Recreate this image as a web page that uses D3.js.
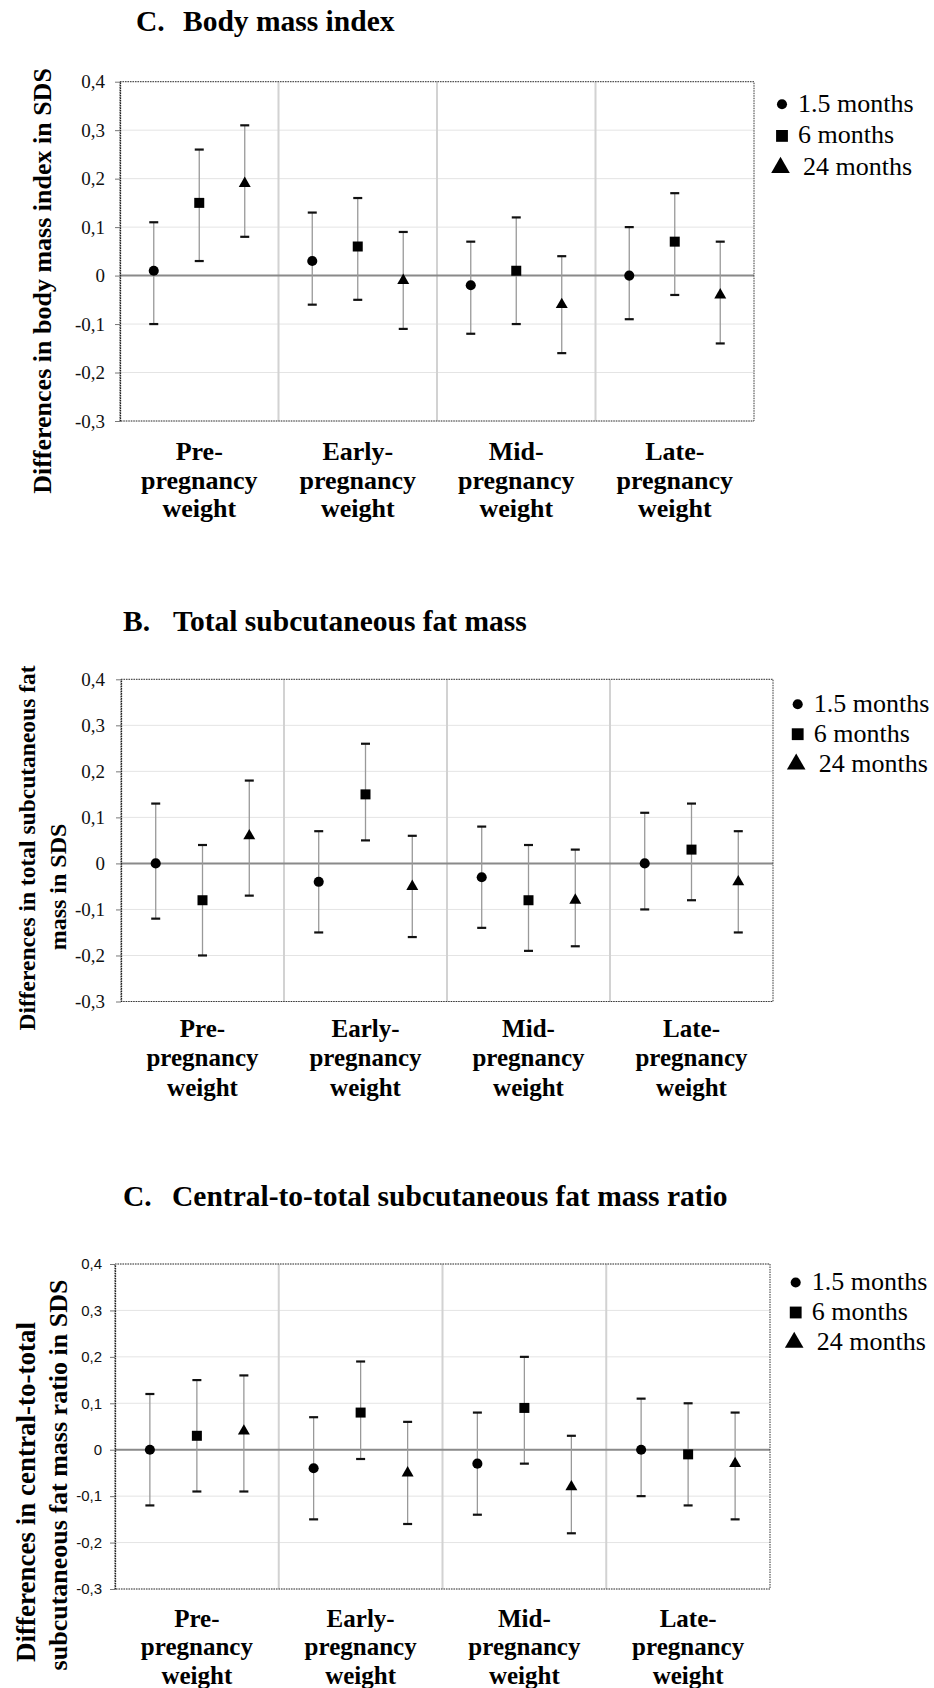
<!DOCTYPE html>
<html>
<head>
<meta charset="utf-8">
<script src="https://cdn.jsdelivr.net/npm/d3@7"></script>
<style>
  body { margin: 0; background: #fff; }
</style>
</head>
<body>
<div id="chart"></div>
<script>
// categories on the x axis, one line per array entry
const categories = [
    ["Pre-", "pregnancy", "weight"],
    ["Early-", "pregnancy", "weight"],
    ["Mid-", "pregnancy", "weight"],
    ["Late-", "pregnancy", "weight"]
];
const seriesNames = ["1.5 months", "6 months", "24 months"];
const yTicks = [0.4, 0.3, 0.2, 0.1, 0, -0.1, -0.2, -0.3];

// rows: 1.5 / 6 / 24 months, columns: pre / early / mid / late
const bmiEst  = [[0.01, 0.03, -0.02, 0.00], [0.15, 0.06, 0.01, 0.07], [0.19, -0.01, -0.06, -0.04]];
const bmiLow  = [[-0.10, -0.06, -0.12, -0.09], [0.03, -0.05, -0.10, -0.04], [0.08, -0.11, -0.16, -0.14]];
const bmiHigh = [[0.11, 0.13, 0.07, 0.10], [0.26, 0.16, 0.12, 0.17], [0.31, 0.09, 0.04, 0.07]];

const fatEst  = [[0.00, -0.04, -0.03, 0.00], [-0.08, 0.15, -0.08, 0.03], [0.06, -0.05, -0.08, -0.04]];
const fatLow  = [[-0.12, -0.15, -0.14, -0.10], [-0.20, 0.05, -0.19, -0.08], [-0.07, -0.16, -0.18, -0.15]];
const fatHigh = [[0.13, 0.07, 0.08, 0.11], [0.04, 0.26, 0.04, 0.13], [0.18, 0.06, 0.03, 0.07]];

const ratioEst  = [[0.00, -0.04, -0.03, 0.00], [0.03, 0.08, 0.09, -0.01], [0.04, -0.05, -0.08, -0.03]];
const ratioLow  = [[-0.12, -0.15, -0.14, -0.10], [-0.09, -0.02, -0.03, -0.12], [-0.09, -0.16, -0.18, -0.15]];
const ratioHigh = [[0.12, 0.07, 0.08, 0.11], [0.15, 0.19, 0.20, 0.10], [0.16, 0.06, 0.03, 0.08]];

const symbolTypes = [d3.symbolCircle, d3.symbolSquare, d3.symbolTriangle];
const markerSizes = [80, 100, 62];
const legendSizes = [80, 140, 150];
const legendGap = [16, 16, 21];

const serif = "'Liberation Serif', 'Times New Roman', serif";
const sans = "'Liberation Sans', Arial, sans-serif";

const panels = [
    {
        letter: "C.", name: "Body mass index", letterX: 136, nameX: 183, titleY: 30.7,
        left: 120, right: 754, top: 81.7, bottom: 421,
        tickFont: serif, tickFontSize: 19, tickPad: 10,
        yTitle: [{text: "Differences in body mass index in SDS", x: 51, y: 281, size: 26}],
        catY: 39, catStep: 28.5, catSize: 26,
        legendX: 782, legendY: 111.7, legendStep: 31.7,
        est: bmiEst, low: bmiLow, high: bmiHigh
    },
    {
        letter: "B.", name: "Total subcutaneous fat mass", letterX: 123, nameX: 173, titleY: 630.7,
        left: 121, right: 773, top: 679.3, bottom: 1001.5,
        tickFont: serif, tickFontSize: 19, tickPad: 11,
        yTitle: [
            {text: "Differences in total subcutaneous fat", x: 35, y: 848, size: 23.5},
            {text: "mass in SDS", x: 65.5, y: 887, size: 24}
        ],
        catY: 35, catStep: 29.7, catSize: 25,
        legendX: 797.7, legendY: 711.7, legendStep: 30,
        est: fatEst, low: fatLow, high: fatHigh
    },
    {
        letter: "C.", name: "Central-to-total subcutaneous fat mass ratio", letterX: 123, nameX: 172, titleY: 1206,
        left: 115, right: 770, top: 1264, bottom: 1589,
        tickFont: sans, tickFontSize: 15, tickPad: 8,
        yTitle: [
            {text: "Differences in central-to-total", x: 35, y: 1492, size: 27},
            {text: "subcutaneous fat mass ratio in SDS", x: 67, y: 1475, size: 26}
        ],
        catY: 37.7, catStep: 28.5, catSize: 25,
        legendX: 795.7, legendY: 1290, legendStep: 30,
        est: ratioEst, low: ratioLow, high: ratioHigh
    }
];

const svg = d3.select("#chart")
    .append("svg")
    .attr("width", 934)
    .attr("height", 1688);

function fmtTick(d) {
    return d === 0 ? "0" : d.toFixed(1).replace(".", ",");
}

function drawPanel(p) {
    const g = svg.append("g");

    var x = d3.scaleBand()
        .domain(d3.range(categories.length))
        .range([p.left, p.right]);
    var xs = d3.scalePoint()
        .domain(d3.range(seriesNames.length))
        .range([0, x.bandwidth()])
        .padding(0.742);
    var y = d3.scaleLinear()
        .domain([-0.3, 0.4])
        .range([p.bottom, p.top]);

    // title
    const title = g.append("text")
        .attr("y", p.titleY)
        .style("font-family", serif)
        .style("font-weight", "bold")
        .style("font-size", "29.5px");
    title.append("tspan").attr("x", p.letterX).text(p.letter);
    title.append("tspan").attr("x", p.nameX).text(p.name);

    // horizontal gridlines
    g.append("g")
        .selectAll("line")
        .data(yTicks)
        .join("line")
        .attr("x1", p.left)
        .attr("x2", p.right)
        .attr("y1", d => y(d))
        .attr("y2", d => y(d))
        .attr("stroke", "#e4e4e4")
        .attr("stroke-width", 1);

    // category separators
    g.append("g")
        .selectAll("line")
        .data(d3.range(1, categories.length))
        .join("line")
        .attr("x1", d => x(d))
        .attr("x2", d => x(d))
        .attr("y1", p.top)
        .attr("y2", p.bottom)
        .attr("stroke", "#d2d2d2")
        .attr("stroke-width", 2);

    // zero line
    g.append("line")
        .attr("x1", p.left)
        .attr("x2", p.right)
        .attr("y1", y(0))
        .attr("y2", y(0))
        .attr("stroke", "#8a8a8a")
        .attr("stroke-width", 2);

    // dotted frame
    g.append("rect")
        .attr("x", p.left)
        .attr("y", p.top)
        .attr("width", p.right - p.left)
        .attr("height", p.bottom - p.top)
        .attr("fill", "none")
        .attr("stroke", "#333")
        .attr("stroke-width", 1)
        .attr("stroke-dasharray", "1.5,1");

    // y axis
    const yAxis = g.append("g")
        .attr("transform", "translate(" + p.left + ",0)")
        .call(d3.axisLeft(y).tickValues(yTicks).tickSize(5).tickSizeOuter(0)
            .tickPadding(p.tickPad).tickFormat(fmtTick));
    yAxis.select(".domain")
        .attr("stroke", "#222")
        .attr("stroke-width", 1.3)
        .attr("stroke-dasharray", "1.5,1");
    yAxis.selectAll(".tick line").attr("stroke", "#777");
    yAxis.selectAll(".tick text")
        .attr("fill", "#111")
        .style("font-family", p.tickFont)
        .style("font-size", p.tickFontSize + "px");

    // x axis with multi-line category labels
    const xAxis = g.append("g")
        .attr("transform", "translate(0," + p.bottom + ")")
        .call(d3.axisBottom(x).tickSize(0).tickFormat(""));
    xAxis.select(".domain").remove();
    xAxis.selectAll(".tick text")
        .attr("y", null)
        .attr("dy", null)
        .attr("fill", "#000")
        .style("font-family", serif)
        .style("font-weight", "bold")
        .style("font-size", p.catSize + "px")
        .each(function(d) {
            d3.select(this).selectAll("tspan")
                .data(categories[d])
                .join("tspan")
                .attr("x", 0)
                .attr("y", (t, i) => p.catY + i * p.catStep)
                .text(t => t);
        });

    // y axis title
    p.yTitle.forEach(function(l) {
        g.append("text")
            .attr("transform", "translate(" + l.x + "," + l.y + ") rotate(-90)")
            .attr("text-anchor", "middle")
            .style("font-family", serif)
            .style("font-weight", "bold")
            .style("font-size", l.size + "px")
            .text(l.text);
    });

    // points with confidence intervals
    const points = seriesNames.flatMap((s, si) => categories.map((c, ci) => ({
        si: si, ci: ci, est: p.est[si][ci], lo: p.low[si][ci], hi: p.high[si][ci]
    })));
    const px = d => x(d.ci) + xs(d.si);

    g.append("g")
        .selectAll("line")
        .data(points)
        .join("line")
        .attr("x1", px)
        .attr("x2", px)
        .attr("y1", d => y(d.lo))
        .attr("y2", d => y(d.hi))
        .attr("stroke", "#999")
        .attr("stroke-width", 1.3);

    const caps = points.flatMap(d => [{x: px(d), v: d.lo}, {x: px(d), v: d.hi}]);
    g.append("g")
        .selectAll("line")
        .data(caps)
        .join("line")
        .attr("x1", d => d.x - 4.5)
        .attr("x2", d => d.x + 4.5)
        .attr("y1", d => y(d.v))
        .attr("y2", d => y(d.v))
        .attr("stroke", "#111")
        .attr("stroke-width", 2.2);

    g.append("g")
        .selectAll("path")
        .data(points)
        .join("path")
        .attr("transform", d => "translate(" + px(d) + "," + y(d.est) + ")")
        .attr("d", d => d3.symbol().type(symbolTypes[d.si]).size(markerSizes[d.si])())
        .attr("fill", "#000");

    // legend
    const legend = g.append("g");
    seriesNames.forEach(function(s, i) {
        const by = p.legendY + i * p.legendStep;
        legend.append("path")
            .attr("transform", "translate(" + (p.legendX - (i === 2 ? 1.5 : 0)) + "," + (by - 7.5) + ")")
            .attr("d", d3.symbol().type(symbolTypes[i]).size(legendSizes[i])())
            .attr("fill", "#000");
        legend.append("text")
            .attr("x", p.legendX + legendGap[i])
            .attr("y", by)
            .style("font-family", serif)
            .style("font-size", "26px")
            .text(s);
    });
}

panels.forEach(drawPanel);
</script>
</body>
</html>
